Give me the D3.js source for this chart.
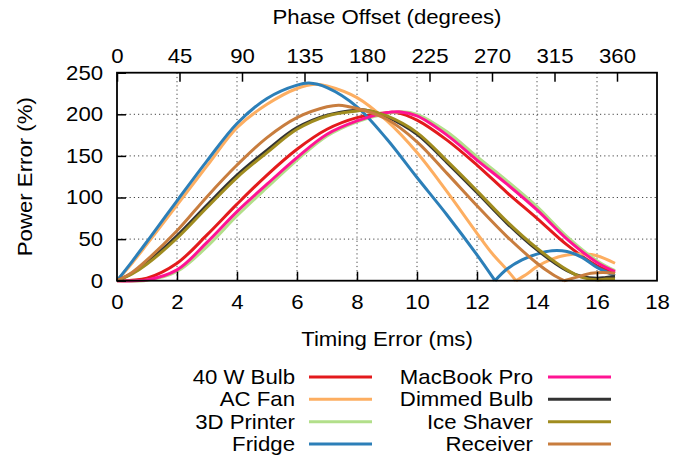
<!DOCTYPE html>
<html><head><meta charset="utf-8">
<script src="https://cdn.jsdelivr.net/npm/d3@7"></script>
<style>
body{margin:0;background:#fff}
svg text{font-family:"Liberation Sans",Arial,Helvetica,sans-serif;fill:#000}
</style>
</head><body>
<svg id="chart" width="673" height="459"></svg>
<script>
// ---- data (timing error ms, power error %) ----
const seriesNames = ["40 W Bulb","AC Fan","3D Printer","Fridge","MacBook Pro","Dimmed Bulb","Ice Shaver","Receiver"];
const seriesColors = ["#e31a1c","#fdae61","#b2df8a","#2c7fb8","#ff1493","#333333","#a08c1f","#c87d3e"];

const bulb40 = [[0,0],[0.5,0.5],[1,3],[2,21],[3,55],[4,92],[5,127],[6,158],[7,182],[8,196],[9,202],[9.3,202],[10,193],[11,169],[12,139],[13,106],[14,75],[15,43],[16,18],[16.6,9]];
const acFan = [[0,0],[0.5,21],[1,44],[2,91],[3,138],[4,184],[5,212],[6,231],[6.6,236],[7,234],[8,220],[9,192],[10,154],[11,107],[12,57],[12.5,33],[13,13],[13.3,0],[13.7,9],[14,17],[14.5,26],[15,31],[15.6,32],[16,30],[16.6,21]];
const printer3d = [[0,0],[1,0.5],[2,11],[3,41],[4,78],[5,112],[6,145],[7,174],[8,191],[9,201],[9.5,203],[10,200],[11,179],[12,149],[13,120],[14,89],[15,53],[16,24],[16.6,12]];
const fridge = [[0,0],[0.5,23],[1,47],[2,96],[3,144],[4,189],[5,219],[6,235],[6.4,237.5],[7,232],[8,209],[9,170],[10,124],[11,79],[12,31],[12.6,0],[13,14],[13.5,25],[14,32],[14.5,36],[15,35],[15.5,28],[16,16],[16.6,6]];
const macbook = [[0,0],[1,1],[2,13],[3,46],[4,83],[5,116],[6,148],[7,176],[8,192],[9,202],[9.4,203],[10,198],[11,175],[12,145],[13,116],[14,85],[15,50],[16,22],[16.6,11]];
const dimmedBulb = [[0,0],[0.5,9],[1,22],[2,54],[3,91],[4,127],[5,157],[6,184],[7,199],[8,205],[8.3,205],[9,197],[10,176],[11,142],[12,106],[13,69],[14,37],[15,12],[15.5,5],[16,3],[16.3,4],[16.6,5]];
const iceShaver = [[0,0],[0.5,8],[1,20],[2,51],[3,88],[4,124],[5,154],[6,182],[7,198],[8,204],[8.3,205],[9,198],[10,178],[11,144],[12,108],[13,71],[14,39],[15,13],[15.5,4],[16,1],[16.3,2],[16.6,2]];
const receiver = [[0,0],[0.5,10],[1,25],[2,60],[3,101],[4,139],[5,172],[6,196],[7,209],[7.4,211],[8,207],[9,194],[10,167],[11,129],[12,90],[13,53],[14,21],[14.5,8],[14.9,0],[15.3,4],[15.8,9],[16.2,10],[16.6,9]];
const seriesData = [bulb40, acFan, printer3d, fridge, macbook, dimmedBulb, iceShaver, receiver];

const xTicks = [0,2,4,6,8,10,12,14,16,18];
const yTicks = [0,50,100,150,200,250];
const phaseTicks = [0,45,90,135,180,225,270,315,360];
const periodMs = 1000/60;

// ---- layout ----
const L = 117, R = 657, T = 72.7, B = 280.7;
const FS = 20, SX = 1.11;
const svg = d3.select("#chart");
const x = d3.scaleLinear().domain([0,18]).range([L,R]);
const y = d3.scaleLinear().domain([0,250]).range([B,T]);
const phase = d3.scaleLinear().domain([0,360]).range([x(0), x(periodMs)]);

// grid
const grid = svg.append("g").attr("stroke","#444").attr("stroke-width",1).attr("stroke-dasharray","1.2,3");
grid.selectAll("line.v").data(xTicks.filter(d=>d>0&&d<18)).join("line")
  .attr("x1",d=>x(d)).attr("x2",d=>x(d)).attr("y1",T).attr("y2",B);
grid.selectAll("line.h").data(yTicks.filter(d=>d>0&&d<250)).join("line")
  .attr("x1",L).attr("x2",R).attr("y1",d=>y(d)).attr("y2",d=>y(d));

// series: split at interior zero points (sharp |.| minima), smooth each piece
function segments(pts){
  const segs = []; let cur = [pts[0]];
  for (let i=1;i<pts.length;i++){
    cur.push(pts[i]);
    if (pts[i][1]===0 && i<pts.length-1){ segs.push(cur); cur=[pts[i]]; }
  }
  segs.push(cur); return segs;
}
const line = d3.line().x(d=>x(d[0])).y(d=>y(d[1])).curve(d3.curveCatmullRom.alpha(0.5));
seriesData.forEach((pts,i)=>{
  svg.append("path").attr("d", segments(pts).map(s=>line(s)).join(""))
    .attr("fill","none").attr("stroke",seriesColors[i]).attr("stroke-width",3)
    .attr("stroke-linejoin","miter");
});

// border
svg.append("rect").attr("x",L).attr("y",T).attr("width",R-L).attr("height",B-T)
  .attr("fill","none").attr("stroke","#000").attr("stroke-width",1.8);

function styleAxis(g){
  g.select(".domain").remove();
  g.selectAll(".tick line").attr("stroke","#000").attr("stroke-width",1.5);
  g.selectAll("text").attr("font-size",FS).attr("font-family",null)
    .attr("transform",`scale(${SX},1)`);
}
// bottom axis
svg.append("g").attr("transform",`translate(0,${B})`)
  .call(d3.axisBottom(x).tickValues(xTicks.filter(d=>d<18 && d>0)).tickSizeInner(-9).tickSizeOuter(0).tickPadding(14).tickFormat(d3.format("d")))
  .call(styleAxis);
svg.append("g").attr("transform",`translate(0,${B})`)
  .call(d3.axisBottom(x).tickValues([0,18]).tickSize(0).tickPadding(14).tickFormat(d3.format("d")))
  .call(styleAxis);
// left axis
svg.append("g").attr("transform",`translate(${L},0)`)
  .call(d3.axisLeft(y).tickValues(yTicks).tickSizeInner(-9).tickSizeOuter(0).tickPadding(12.5))
  .call(styleAxis);
// top axis (phase)
svg.append("g").attr("transform",`translate(0,${T})`)
  .call(d3.axisTop(phase).tickValues(phaseTicks).tickSizeInner(-9).tickSizeOuter(0).tickPadding(10))
  .call(styleAxis);

function label(txt, px, py, anchor, rot){
  const g = svg.append("g").attr("transform",`translate(${px},${py})` + (rot?` rotate(${rot})`:""));
  g.append("text").attr("text-anchor",anchor||"middle").attr("font-size",FS)
    .attr("transform",`scale(${SX},1)`).text(txt);
}
label("Phase Offset (degrees)", 387, 24, "middle");
label("Timing Error (ms)", 387, 346, "middle");
label("Power Error (%)", 32, (T+B)/2, "middle", -90);

// legend
const legRows = [377, 399.3, 421.7, 444];
seriesNames.forEach((name,i)=>{
  const col = Math.floor(i/4), row = i%4;
  const tx = col===0 ? 295 : 533;
  const lx = col===0 ? 309 : 548;
  const yy = legRows[row];
  label(name, tx, yy+7, "end");
  svg.append("line").attr("x1",lx).attr("x2",lx+63).attr("y1",yy).attr("y2",yy)
    .attr("stroke",seriesColors[i]).attr("stroke-width",3);
});
</script>
</body></html>
